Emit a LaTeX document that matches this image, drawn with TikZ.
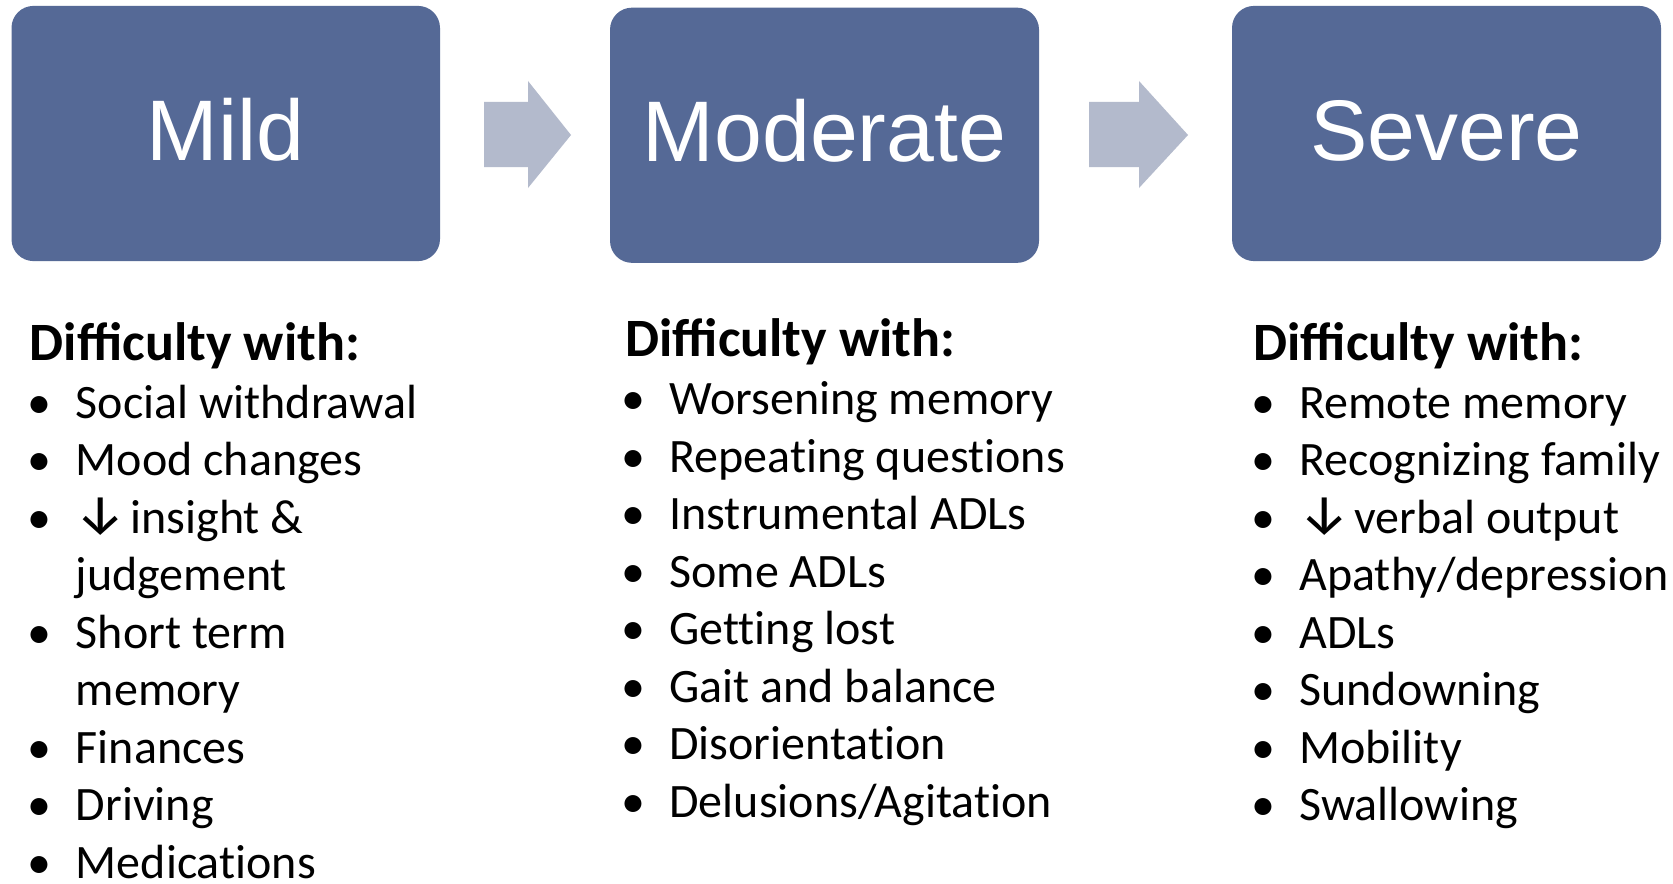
\documentclass[tikz,border=0pt]{standalone}
\usepackage{fontspec}
\setmainfont{Carlito}
\newfontfamily\itemfont[Ligatures=NoCommon]{Carlito}
\newfontfamily\arrowfont{Fira Sans}
\newfontfamily\titlefont{Liberation Sans}
\definecolor{boxblue}{RGB}{85,105,150}
\definecolor{arrowgray}{RGB}{179,186,204}
\newcommand\dnarrow{{\arrowfont\fontsize{28pt}{29pt}\selectfont ↓}\hspace{0.09em}}
\begin{document}
\begin{tikzpicture}[x=0.5pt,y=-0.5pt,
  stagebox/.style={rectangle, rounded corners=11pt, fill=boxblue, draw=none,
    minimum height=127.6pt, inner sep=0pt, text=white,
    font=\titlefont\fontsize{43pt}{50pt}\selectfont,
    text height=30.5pt, text depth=4pt},
  flowarrow/.style={fill=arrowgray, draw=none},
  header/.style={anchor=base west, inner sep=0pt, font=\bfseries\fontsize{27pt}{33pt}\selectfont},
  item/.style={anchor=base west, inner sep=0pt, font=\itemfont\fontsize{24pt}{29pt}\selectfont},
  bul/.style={anchor=base, inner sep=0pt, font=\itemfont\fontsize{24pt}{29pt}\selectfont}
]
\useasboundingbox (0,0) rectangle (1673,883);
\fill[white] (0,0) rectangle (1673,883);

% stage boxes
\node[stagebox, minimum width=214.25pt] (mild) at (225.75,133.5) {Mild};
\node[stagebox, minimum width=214.5pt] (moderate) at (824.5,135.25) {Moderate};
\node[stagebox, minimum width=214.5pt] (severe) at (1446.5,133.5) {Severe};

% block arrows between boxes
\fill[flowarrow] (484,102) -- (528,102) -- (528,81) -- (571,135) -- (528,188) -- (528,167) -- (484,167) -- cycle;
\fill[flowarrow] (1089,102) -- (1139,102) -- (1139,81) -- (1188,135) -- (1139,188) -- (1139,167) -- (1089,167) -- cycle;

% Mild list
\node[header] (mildh) at (29.5,360) {Difficulty with:};
\foreach \b/\t [count=\i] in {1/Social withdrawal, 1/Mood changes, 1/{\dnarrow insight \&}, 0/judgement, 1/Short term, 0/memory, 1/Finances, 1/Driving, 1/Medications}{
  \node[item] (mild-\i) at (75.5,{418.3+57.5*(\i-1)}) {\t};
  \ifnum\b=1 \node[bul] (mildb-\i) at (39,{418.3+57.5*(\i-1)}) {•};\fi
}

% Moderate list
\node[header] (modh) at (625,356) {Difficulty with:};
\foreach \t [count=\i] in {Worsening memory, Repeating questions, Instrumental ADLs, Some ADLs, Getting lost, Gait and balance, Disorientation, Delusions/Agitation}{
  \node[item] (mod-\i) at (669,{414.5+57.5*(\i-1)}) {\t};
  \node[bul] (modb-\i) at (633,{414.5+57.5*(\i-1)}) {•};
}

% Severe list
\node[header] (sevh) at (1253,360) {Difficulty with:};
\foreach \t [count=\i] in {Remote memory, Recognizing family, {\dnarrow verbal output}, Apathy/depression, ADLs, Sundowning, Mobility, Swallowing}{
  \node[item] (sev-\i) at (1299,{418.3+57.5*(\i-1)}) {\t};
  \node[bul] (sevb-\i) at (1263,{418.3+57.5*(\i-1)}) {•};
}
\end{tikzpicture}
\end{document}
